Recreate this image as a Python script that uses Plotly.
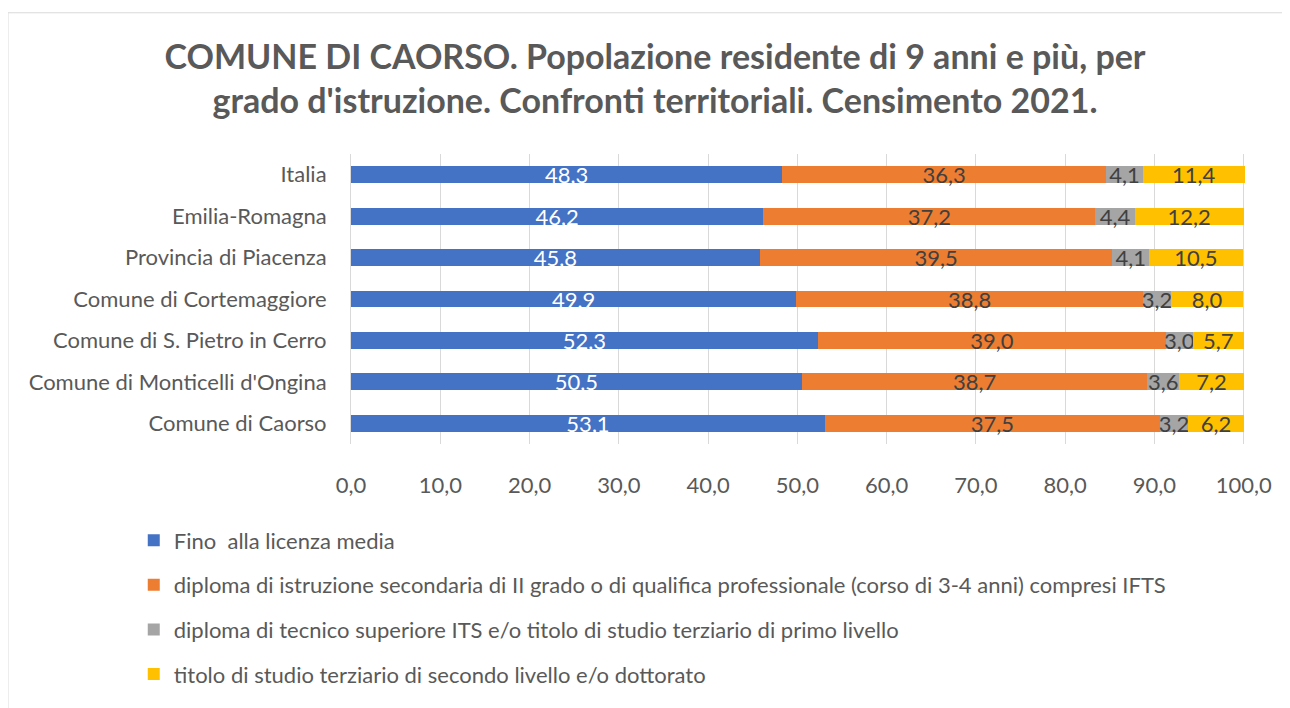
import plotly.graph_objects as go

# Categories top to bottom
territori = [
    "Italia",
    "Emilia-Romagna",
    "Provincia di Piacenza",
    "Comune di Cortemaggiore",
    "Comune di S. Pietro in Cerro",
    "Comune di Monticelli d'Ongina",
    "Comune di Caorso",
]

# Shares (%) per grado d'istruzione
fino_licenza_media = [48.3, 46.2, 45.8, 49.9, 52.3, 50.5, 53.1]
diploma_secondaria = [36.3, 37.2, 39.5, 38.8, 39.0, 38.7, 37.5]
diploma_its = [4.1, 4.4, 4.1, 3.2, 3.0, 3.6, 3.2]
terziario_secondo = [11.4, 12.2, 10.5, 8.0, 5.7, 7.2, 6.2]

serie_nomi = [
    "Fino\u00a0 alla licenza media",
    "diploma di istruzione secondaria di II grado o di qualifica professionale (corso di 3-4 anni) compresi IFTS",
    "diploma di tecnico superiore ITS e/o titolo di studio terziario di primo livello",
    "titolo di studio terziario di secondo livello e/o dottorato",
]
serie_valori = [fino_licenza_media, diploma_secondaria, diploma_its, terziario_secondo]
colori = ["#4472C4", "#ED7D31", "#A5A5A5", "#FFC000"]
colori_testo = ["#FFFFFF", "#404040", "#404040", "#404040"]

FONT = "Lato, Carlito, Calibri, sans-serif"

fig = go.Figure()
for i, (nome, valori) in enumerate(zip(serie_nomi, serie_valori)):
    fig.add_trace(go.Bar(
        y=territori,
        x=valori,
        name=nome,
        orientation="h",
        legendgroup=f"g{i}",
        marker=dict(color=colori[i], line=dict(width=0)),
        texttemplate="%{x:.1f}",
        textposition="inside",
        insidetextanchor="middle",
        constraintext="none",
        textfont=dict(family=FONT, size=22, color=colori_testo[i]),
        cliponaxis=False,
    ))

# outer chart border (top and left edges only are visible in the frame)
fig.add_shape(type="line", xref="paper", yref="paper",
              x0=-0.3837, x1=1.2, y0=1.487, y1=1.487,
              line=dict(color="#D9D9D9", width=1), layer="below")
fig.add_shape(type="line", xref="paper", yref="paper",
              x0=-0.3837, x1=-0.3837, y0=-1.0, y1=1.487,
              line=dict(color="#D9D9D9", width=1), layer="below")

# page body has an 8px margin, so the figure is a bit smaller than the window
fig.update_layout(
    width=1282,
    height=700,
    barmode="stack",
    bargap=0.59,
    separators=",.",
    paper_bgcolor="white",
    plot_bgcolor="white",
    margin=dict(l=343, r=45, t=146, b=246),
    font=dict(family=FONT, size=22, color="#595959"),
    title=dict(
        text="<b>COMUNE DI CAORSO. Popolazione residente di 9 anni e più, per<br>grado d'istruzione. Confronti territoriali. Censimento 2021.</b>",
        x=0.5047, xref="container", xanchor="center",
        y=0.9129, yref="container", yanchor="middle",
        font=dict(family=FONT, size=34, color="#595959"),
    ),
    xaxis=dict(
        range=[0, 100.15],
        dtick=10,
        tickformat=".1f",
        showgrid=True,
        gridcolor="#D9D9D9",
        gridwidth=1,
        zeroline=False,
        showline=False,
        ticks="outside",
        ticklen=22,
        tickcolor="rgba(0,0,0,0)",
        tickfont=dict(family=FONT, size=22, color="#595959"),
    ),
    yaxis=dict(
        autorange="reversed",
        showline=True,
        linecolor="#D9D9D9",
        linewidth=1,
        showgrid=False,
        ticks="",
        ticklabelstandoff=19,
        tickfont=dict(family=FONT, size=22, color="#595959"),
    ),
    legend=dict(
        orientation="v",
        x=-0.243, xanchor="left",
        y=-0.26, yanchor="top",
        traceorder="grouped",
        tracegroupgap=13,
        font=dict(family=FONT, size=22, color="#595959"),
        bgcolor="rgba(0,0,0,0)",
    ),
)

fig.write_html("out.html")
